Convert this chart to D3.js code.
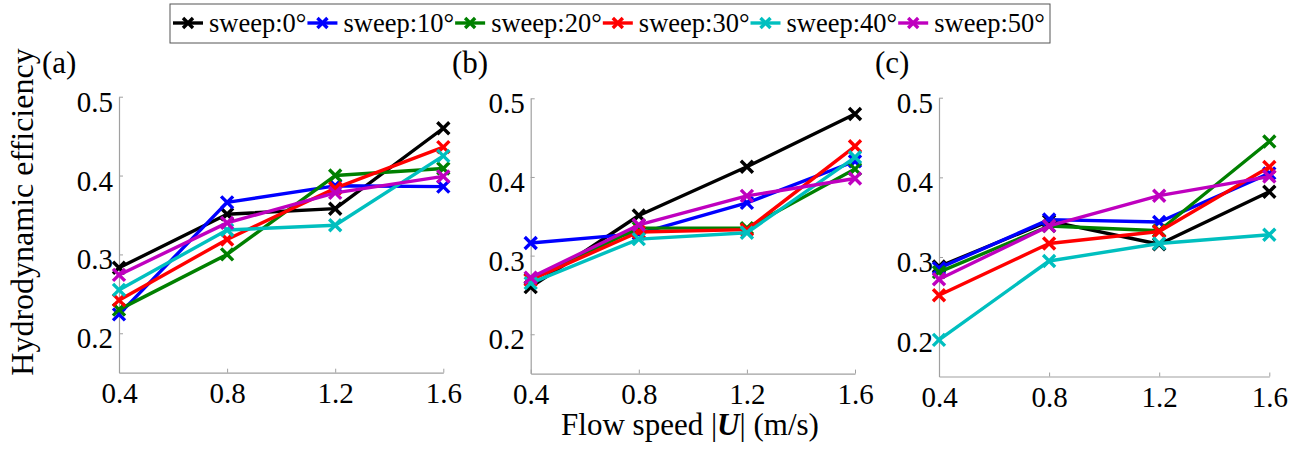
<!DOCTYPE html>
<html><head><meta charset="utf-8">
<script src="https://cdn.jsdelivr.net/npm/d3@7"></script>
<style>
body{margin:0;background:#fff;}
svg{display:block;}
</style></head>
<body><svg id="chart" width="1304" height="454"></svg>
<script>
// ---- data ----
const speeds = [0.4, 0.8, 1.2, 1.6];
const xTicks = [0.4, 0.8, 1.2, 1.6];
const yTicks = [0.2, 0.3, 0.4, 0.5];
const seriesNames = ["sweep:0°", "sweep:10°", "sweep:20°", "sweep:30°", "sweep:40°", "sweep:50°"];
const seriesColors = ["#000000", "#0000ff", "#008000", "#ff0000", "#00bfbf", "#bf00bf"];
const panelLabels = ["(a)", "(b)", "(c)"];
// panel (a)
const a0 = [0.283, 0.351, 0.358, 0.460];
const a10 = [0.224, 0.366, 0.387, 0.386];
const a20 = [0.230, 0.300, 0.400, 0.409];
const a30 = [0.242, 0.319, 0.384, 0.436];
const a40 = [0.255, 0.331, 0.337, 0.425];
const a50 = [0.274, 0.340, 0.378, 0.399];
// panel (b)
const b0 = [0.260, 0.351, 0.413, 0.480];
const b10 = [0.316, 0.328, 0.367, 0.420];
const b20 = [0.270, 0.335, 0.335, 0.410];
const b30 = [0.269, 0.330, 0.333, 0.439];
const b40 = [0.265, 0.321, 0.329, 0.425];
const b50 = [0.272, 0.339, 0.376, 0.398];
// panel (c)
const c0 = [0.288, 0.345, 0.316, 0.382];
const c10 = [0.286, 0.347, 0.344, 0.405];
const c20 = [0.281, 0.339, 0.333, 0.445];
const c30 = [0.252, 0.317, 0.332, 0.413];
const c40 = [0.196, 0.295, 0.317, 0.328];
const c50 = [0.272, 0.339, 0.377, 0.401];
const panelData = [[a0,a10,a20,a30,a40,a50],[b0,b10,b20,b30,b40,b50],[c0,c10,c20,c30,c40,c50]];

// ---- layout ----
const layout = [
  {x0:119, x1:443.3, yTop:96.7, yLow:372.7, lx:42, ly:73},
  {x0:530.7, x1:855, yTop:98.3, yLow:373.6, lx:452, ly:73},
  {x0:939, x1:1269.3, yTop:97.7, yLow:376.5, lx:875, ly:73}
];
const FONT = "'Liberation Serif', 'Times New Roman', serif";
const svg = d3.select("#chart");
const axisColor = "#a0a0a0";

function xMark(g, cx, cy, s, color, w){
  g.append("path")
    .attr("d", `M${cx-s},${cy-s}L${cx+s},${cy+s}M${cx-s},${cy+s}L${cx+s},${cy-s}`)
    .attr("stroke", color).attr("stroke-width", w).attr("fill","none");
}

layout.forEach((L, pi) => {
  const x = d3.scaleLinear().domain([0.4, 1.6]).range([L.x0, L.x1]);
  const y = d3.scaleLinear().domain([0.15, 0.5]).range([L.yLow, L.yTop]);
  const g = svg.append("g");

  // y axis
  const ya = g.append("g").attr("transform", `translate(${L.x0},0)`)
    .call(d3.axisLeft(y).tickValues(yTicks).tickFormat(d3.format(".1f")).tickSizeInner(-4).tickSizeOuter(0).tickPadding(6));
  ya.attr("font-family", null);
  ya.select(".domain").attr("stroke", axisColor).attr("stroke-width",1.2);
  ya.selectAll(".tick line").attr("stroke", axisColor);
  ya.selectAll(".tick text").style("font-family", FONT).style("font-size", "29px").attr("dy", "0.5em").attr("fill","#000");

  // x axis
  const xa = g.append("g").attr("transform", `translate(0,${L.yLow})`)
    .call(d3.axisBottom(x).tickValues(xTicks).tickFormat(d3.format(".1f")).tickSizeInner(-4).tickSizeOuter(0).tickPadding(8));
  xa.attr("font-family", null);
  xa.select(".domain").attr("stroke", axisColor).attr("stroke-width",1.2);
  xa.selectAll(".tick line").attr("stroke", axisColor);
  xa.selectAll(".tick text").style("font-family", FONT).style("font-size", "29px").attr("y", 30).attr("dy", 0).attr("fill","#000");

  // series
  const line = d3.line().x((d,i)=>x(speeds[i])).y(d=>y(d));
  panelData[pi].forEach((vals, si) => {
    const sg = g.append("g");
    sg.append("path").attr("d", line(vals)).attr("fill","none")
      .attr("stroke", seriesColors[si]).attr("stroke-width", 3.4).attr("stroke-linejoin","round");
    vals.forEach((v,i) => xMark(sg, x(speeds[i]), y(v), 6, seriesColors[si], 3.4));
  });

  // panel label
  svg.append("text").attr("x", L.lx).attr("y", L.ly).style("font-family", FONT).style("font-size", "31px").text(panelLabels[pi]);
});

// y label
svg.append("text").attr("transform", "translate(33,212) rotate(-90)")
  .attr("text-anchor","middle").style("font-family", FONT).style("font-size", "32px").text("Hydrodynamic efficiency");

// x label
const xl = svg.append("text").attr("x", 690).attr("y", 435).attr("text-anchor","middle").style("font-family", FONT).style("font-size", "31px");
xl.append("tspan").text("Flow speed |");
xl.append("tspan").attr("font-weight","bold").attr("font-style","italic").text("U");
xl.append("tspan").text("| (m/s)");

// legend
const leg = svg.append("g");
leg.append("rect").attr("x",170).attr("y",4).attr("width",880).attr("height",39)
  .attr("fill","#fff").attr("stroke","#555").attr("stroke-width",1);
let cx = 173;
seriesNames.forEach((name, i) => {
  leg.append("line").attr("x1", cx).attr("x2", cx+30).attr("y1", 23).attr("y2", 23)
    .attr("stroke", seriesColors[i]).attr("stroke-width", 3.4);
  xMark(leg, cx+15, 23, 5, seriesColors[i], 3.4);
  const t = leg.append("text").attr("x", cx+36).attr("y", 32).style("font-family", FONT).style("font-size", "26.5px").text(name);
  const w = t.node().getComputedTextLength();
  cx = cx + 36 + w + 1;
});
</script>
</body></html>
